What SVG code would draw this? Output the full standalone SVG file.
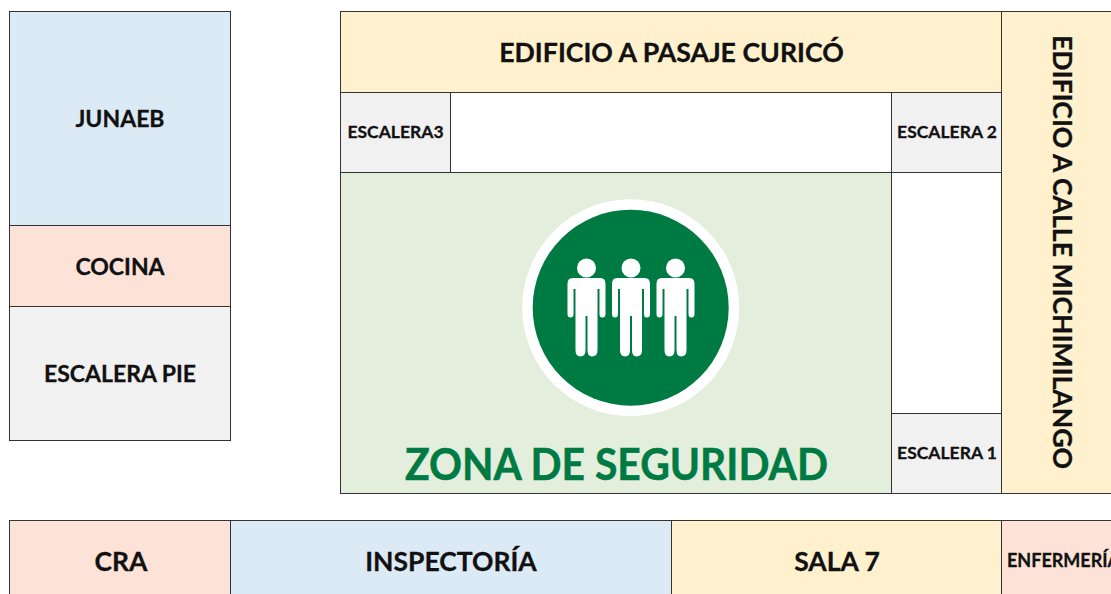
<svg xmlns="http://www.w3.org/2000/svg" width="1111" height="594" viewBox="0 0 1111 594">
<style>
.b{stroke:#333;stroke-width:1}
.t{font-family:"Lato","Carlito","Liberation Sans",sans-serif;font-weight:700;fill:#111;stroke:#111;stroke-width:.3;text-anchor:middle}
.blue{fill:#dceaf6}.pink{fill:#fde3d7}.grey{fill:#f1f1f1}.yel{fill:#fff1cd}.grn{fill:#e3efdc}.wh{fill:#fff}
</style>
<defs>
<g id="person" fill="#fff">
<circle cx="0" cy="0" r="9.500"/>
<path d="M-14 10H14Q19 10 19 16V46Q19 49.500 16 49.500H15.500Q13 49.500 13 46V21H11V82Q11 88.500 5.500 88.500Q1 88.500 1 82V48H-1V82Q-1 88.500 -6 88.500Q-11 88.500 -11 82V21H-13V46Q-13 49.500 -16 49.500Q-19 49.500 -19 46V16Q-19 10 -14 10Z"/>
</g>
</defs>
<rect width="1111" height="594" fill="#fff"/>
<g id="junaeb"><rect class="b blue" x="9.500" y="11.500" width="221" height="214"/><text class="t" x="120" y="127" font-size="23">JUNAEB</text></g>
<g id="cocina"><rect class="b pink" x="9.500" y="225.500" width="221" height="81"/><text class="t" x="120" y="275" font-size="23">COCINA</text></g>
<g id="escalera-pie"><rect class="b grey" x="9.500" y="306.500" width="221" height="134"/><text class="t" x="120" y="382" font-size="23">ESCALERA PIE</text></g>
<g id="edificio-curico"><rect class="b yel" x="340.500" y="11.500" width="661" height="81"/><text class="t" x="671.500" y="62" font-size="26.700">EDIFICIO A PASAJE CURICÓ</text></g>
<g id="edificio-michimilango"><rect class="b yel" x="1001.500" y="11.500" width="120" height="482"/><text class="t" transform="translate(1052.500 252) rotate(90)" font-size="26.600">EDIFICIO A CALLE MICHIMILANGO</text></g>
<g id="escalera3"><rect class="b grey" x="340.500" y="92.500" width="110" height="80"/><text class="t" x="395.500" y="138" font-size="17.500">ESCALERA3</text></g>
<g id="patio-norte"><rect class="b wh" x="450.500" y="92.500" width="441" height="80"/></g>
<g id="escalera2"><rect class="b grey" x="891.500" y="92.500" width="110" height="80"/><text class="t" x="947" y="138" font-size="17.500">ESCALERA 2</text></g>
<g id="patio-este"><rect class="b wh" x="891.500" y="172.500" width="110" height="241"/></g>
<g id="escalera1"><rect class="b grey" x="891.500" y="413.500" width="110" height="80"/><text class="t" x="947" y="459" font-size="17.500">ESCALERA 1</text></g>
<g id="zona-seguridad"><rect class="b grn" x="340.500" y="172.500" width="551" height="321"/>
<circle cx="630.700" cy="307.700" r="108.500" fill="#fff"/><circle cx="630.700" cy="307.700" r="98" fill="#007a43"/>
<use href="#person" x="586.500" y="268"/><use href="#person" x="631" y="268"/><use href="#person" x="675.500" y="268"/>
<text x="616.500" y="480" font-size="43" textLength="423" lengthAdjust="spacingAndGlyphs" style="font-family:Lato,Carlito,'Liberation Sans',sans-serif;font-weight:700;fill:#007a43;stroke:#007a43;stroke-width:.5;text-anchor:middle">ZONA DE SEGURIDAD</text></g>
<g id="cra"><rect class="b pink" x="9.500" y="520.500" width="221" height="90"/><text class="t" x="121" y="571" font-size="26.500">CRA</text></g>
<g id="inspectoria"><rect class="b blue" x="230.500" y="520.500" width="441" height="90"/><text class="t" x="451" y="571" font-size="26.500">INSPECTORÍA</text></g>
<g id="sala7"><rect class="b yel" x="671.500" y="520.500" width="330" height="90"/><text class="t" x="837" y="571" font-size="26.500">SALA 7</text></g>
<g id="enfermeria"><rect class="b pink" x="1001.500" y="520.500" width="120" height="90"/><text class="t" x="1007" y="567" font-size="18" style="text-anchor:start">ENFERMERÍA</text></g>
<g id="connectors"></g>
</svg>
